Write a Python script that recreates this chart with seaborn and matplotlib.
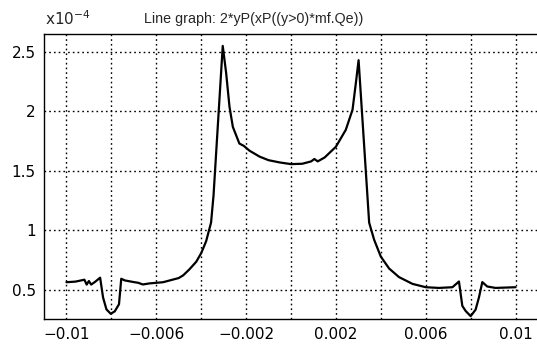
import matplotlib
matplotlib.use("Agg")
import matplotlib.pyplot as plt
import seaborn as sns
import pandas as pd
import numpy as np
from matplotlib.ticker import FixedLocator, FuncFormatter

# data (y in units of 1e-4)
x_vals = [-0.0100, -0.0096, -0.0092, -0.0091, -0.0090, -0.0089, -0.00874, -0.0085,
          -0.00837, -0.00822, -0.00803, -0.00785, -0.00766, -0.00756, -0.0074, -0.0070,
          -0.0068, -0.0066, -0.0063, -0.0060, -0.0057, -0.0054, -0.0050, -0.0048,
          -0.00452, -0.00422, -0.0040, -0.00378, -0.00356, -0.00345, -0.00304, -0.00289,
          -0.00274, -0.00259, -0.0023, -0.0021, -0.00185, -0.0014, -0.0010, -0.0005,
          0.0, 0.0005, 0.0009, 0.00104, 0.00119, 0.0015, 0.0020, 0.00244, 0.00274,
          0.00289, 0.00301, 0.0034, 0.00348, 0.0037, 0.0040, 0.00437, 0.00481, 0.00541,
          0.0060, 0.00659, 0.00719, 0.00748, 0.00763, 0.00778, 0.0080, 0.00822, 0.00837,
          0.00852, 0.00874, 0.00911, 0.0100]
y_vals = [0.565, 0.57, 0.586, 0.545, 0.575, 0.545, 0.566, 0.603,
          0.437, 0.337, 0.30, 0.32, 0.38, 0.594, 0.58, 0.566,
          0.56, 0.546, 0.555, 0.56, 0.565, 0.58, 0.60, 0.623,
          0.674, 0.737, 0.809, 0.909, 1.066, 1.294, 2.55, 2.325,
          2.04, 1.87, 1.73, 1.71, 1.67, 1.62, 1.59, 1.571,
          1.557, 1.56, 1.58, 1.60, 1.58, 1.613, 1.703, 1.845, 2.014,
          2.24, 2.43, 1.30, 1.066, 0.923, 0.78, 0.68, 0.608, 0.551,
          0.523, 0.517, 0.523, 0.571, 0.366, 0.323, 0.28, 0.334, 0.437,
          0.566, 0.529, 0.517, 0.523]

x_ticks = [-0.01, -0.008, -0.006, -0.004, -0.002, 0.0, 0.002, 0.004, 0.006, 0.008, 0.01]
x_labeled = [-0.01, -0.006, -0.002, 0.002, 0.006, 0.01]
y_ticks = [0.5, 1.0, 1.5, 2.0, 2.5]
title = "Line graph: 2*yP(xP((y>0)*mf.Qe))"

sns.set_style("white")
plt.rcParams['font.family'] = ['DejaVu Sans']

W, H = 537, 344
fig = plt.figure(figsize=(W / 100, H / 100), dpi=100)
ax = fig.add_axes([44 / W, 1 - 319 / H, 494 / W, 285 / H])

df = pd.DataFrame({"x": x_vals, "y": y_vals})
sns.lineplot(data=df, x="x", y="y", ax=ax, color="black", linewidth=1.6,
             sort=False, estimator=None)

ax.set_xlim(-0.011, 0.011)
ax.set_ylim(0.256, 2.65)
ax.xaxis.set_major_locator(FixedLocator(x_ticks))
ax.yaxis.set_major_locator(FixedLocator(y_ticks))

def xfmt(v, pos):
    for t in x_labeled:
        if abs(v - t) < 1e-9:
            s = ("%g" % abs(t))
            return ("\u2212" + s) if t < 0 else s
    return ""

def yfmt(v, pos):
    return "%g" % v

ax.xaxis.set_major_formatter(FuncFormatter(xfmt))
ax.yaxis.set_major_formatter(FuncFormatter(yfmt))
ax.set_xlabel("")
ax.set_ylabel("")
ax.grid(True, color="black", linestyle=(0, (1.2, 2.2)), linewidth=1.0)
ax.tick_params(axis="both", direction="in", length=4, width=0.8, labelsize=11,
               colors="black", pad=6)
for s in ["left", "top", "bottom"]:
    ax.spines[s].set_color("black")
    ax.spines[s].set_linewidth(1.0)
ax.spines["right"].set_visible(False)

fig.text(254 / W, 1 - 19 / H, title, ha="center", va="center", fontsize=10.3,
         family=["Liberation Sans", "DejaVu Sans"])
fig.text(45 / W, 1 - 25 / H, r"x10$^{-4}$", ha="left", va="baseline", fontsize=11)

fig.savefig("out.png", dpi=100)
